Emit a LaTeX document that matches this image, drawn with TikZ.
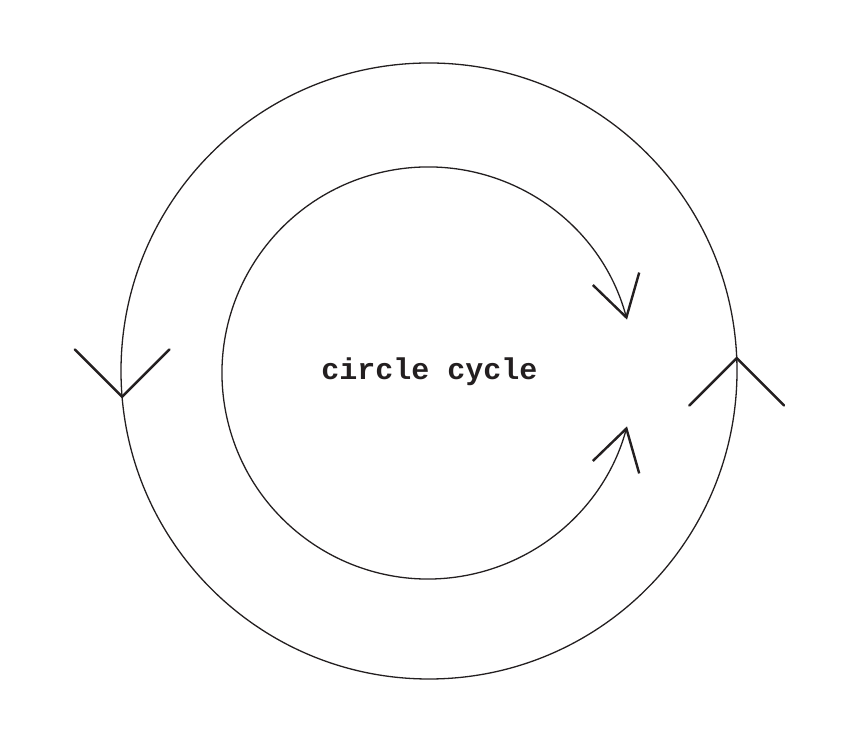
\documentclass[tikz,border=0pt]{standalone}
\usepackage{fontspec}
\newfontfamily\cyclefont{Liberation Mono}
\usetikzlibrary{arrows.meta}
\definecolor{ink}{HTML}{231F20}
\tikzset{
  ring/.style={draw=ink, line width=1.3pt},
  barb/.style={draw=ink, line width=2.4pt, line cap=round},
}
\begin{document}
\begin{tikzpicture}[x=1pt, y=1pt]
  \useasboundingbox (0,0) rectangle (841,746);
  % centres of the two rings
  \coordinate (outerC) at (429,375);
  \coordinate (innerC) at (428,373);
  % outer ring and its two heads
  \draw[ring] (outerC) circle (308);
  \path (outerC) ++(2.4:308) coordinate (tipR);
  \path (outerC) ++(184.8:308) coordinate (tipL);
  \draw[barb] (tipR) ++(-135:67) -- (tipR) -- ++(-45:67);
  \draw[barb] (tipL) ++(135:67) -- (tipL) -- ++(45:67);
  % inner arc, open on the right
  \draw[ring, {Straight Barb[length=40pt, width=48pt, line width=2.4pt]}-{Straight Barb[length=40pt, width=48pt, line width=2.4pt]}]
    (innerC) ++(15:206) coordinate (arcTop) arc (15:345:206) coordinate (arcBot);
  % label
  \node[font=\cyclefont\bfseries\fontsize{30}{36}\selectfont, text=ink, anchor=base]
    (label) at (429.5,366) {circle cycle};
\end{tikzpicture}
\end{document}
